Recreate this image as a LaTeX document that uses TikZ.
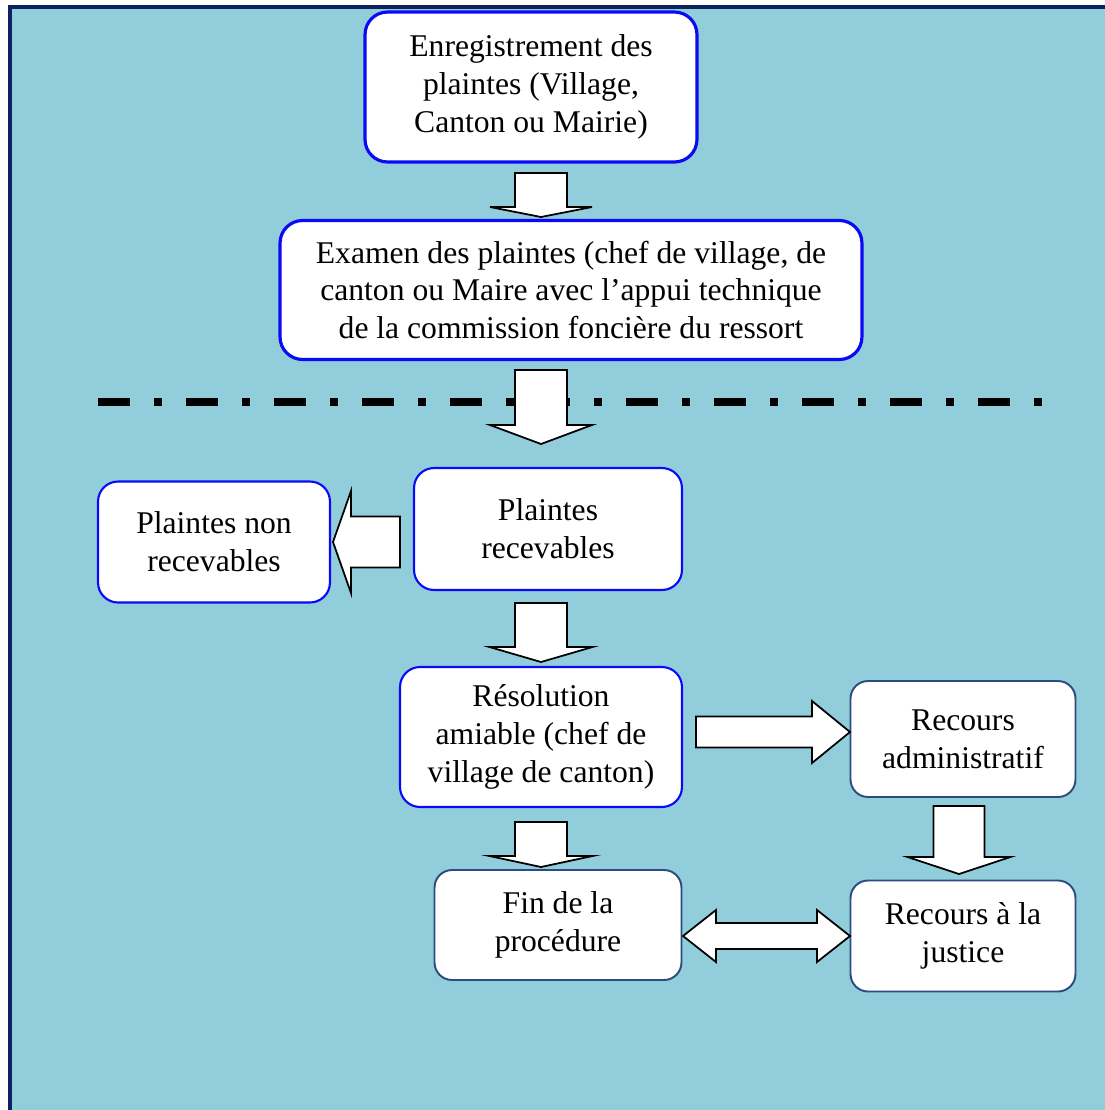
\documentclass[tikz,border=0pt]{standalone}
\usepackage{fontspec}
\setmainfont{Liberation Serif}
\usetikzlibrary{calc}
\definecolor{fond}{HTML}{92CDDC}
\definecolor{cadre}{HTML}{0C2160}
\definecolor{bleu}{HTML}{0A0AF5}
\definecolor{ardoise}{HTML}{2B4C7E}

% fleche pleine : queue, pointe, demi-largeur du corps, demi-largeur de la tete, longueur de la tete
\newcommand{\fleche}[5]{%
  \path ($(#2)!#5!(#1)$) coordinate (hb);
  \draw[bloc] ($(#1)!#3!90:(#2)$) -- ($(hb)!#3!90:(#2)$) -- ($(hb)!#4!90:(#2)$) -- (#2)
    -- ($(hb)!#4!-90:(#2)$) -- ($(hb)!#3!-90:(#2)$) -- ($(#1)!#3!-90:(#2)$) -- cycle;}
\newcommand{\doublefleche}[5]{%
  \path ($(#1)!#5!(#2)$) coordinate (hb1) ($(#2)!#5!(#1)$) coordinate (hb2);
  \draw[bloc] (#1) -- ($(hb1)!#4!90:(#2)$) -- ($(hb1)!#3!90:(#2)$) -- ($(hb2)!#3!90:(#2)$)
    -- ($(hb2)!#4!90:(#2)$) -- (#2) -- ($(hb2)!#4!-90:(#2)$) -- ($(hb2)!#3!-90:(#2)$)
    -- ($(hb1)!#3!-90:(#2)$) -- ($(hb1)!#4!-90:(#2)$) -- cycle;}

\begin{document}
\begin{tikzpicture}[x=0.02cm, y=-0.02cm, font=\fontsize{18}{21.5}\selectfont,
    boite/.style={draw, fill=white, align=center, inner sep=0pt, rounded corners=0.4cm},
    bleue/.style={boite, draw=bleu, line width=1.2pt},
    epaisse/.style={bleue, line width=1.8pt, rounded corners=0.45cm},
    sombre/.style={boite, draw=ardoise, line width=1.1pt, rounded corners=0.35cm},
    bloc/.style={draw=black, fill=white, line width=1pt, line join=miter}]

    \useasboundingbox (0,0) rectangle (1105,1110);
    \fill[fond] (10,7) rectangle (1105,1110);
    \draw[cadre, line width=0.08cm] (10,1110) -- (10,7) -- (1105,7);

    \node[epaisse, minimum width=6.64cm, minimum height=3cm] (enreg) at (531,87)
        {Enregistrement des\\plaintes (Village,\\Canton ou Mairie)};
    \node[epaisse, minimum width=11.64cm, minimum height=2.78cm] (examen) at (571,290)
        {Examen des plaintes (chef de village, de\\canton ou Maire avec l’appui technique\\de la commission foncière du ressort};
    \node[bleue, minimum width=5.36cm, minimum height=2.44cm] (recev) at (548,529) {Plaintes\\recevables};
    \node[bleue, minimum width=4.64cm, minimum height=2.42cm] (nonrecev) at (214,542) {Plaintes non\\recevables};
    \node[bleue, minimum width=5.64cm, minimum height=2.8cm] (resol) at (541,737)
        {Résolution\\amiable (chef de\\village de canton)};
    \node[sombre, minimum width=4.5cm, minimum height=2.32cm] (recadm) at (963,739) {Recours\\administratif};
    \node[sombre, minimum width=4.94cm, minimum height=2.2cm] (fin) at (558,925) {Fin de la\\procédure};
    \node[sombre, minimum width=4.5cm, minimum height=2.22cm] (justice) at (963,936) {Recours à la\\justice};

    \draw[line width=0.16cm, dash pattern=on 0.64cm off 0.48cm on 0.16cm off 0.48cm] (98,402) -- (1045,402);

    \coordinate (f1a) at (541,173); \coordinate (f1b) at (541,217);
    \coordinate (f2a) at (541,370); \coordinate (f2b) at (541,444);
    \coordinate (f3a) at (541,603); \coordinate (f3b) at (541,662);
    \coordinate (f4a) at (400,542); \coordinate (f4b) at (333,542);
    \coordinate (f5a) at (696,732); \coordinate (f5b) at (850,732);
    \coordinate (f6a) at (541,822); \coordinate (f6b) at (541,867);
    \coordinate (f7a) at (959,806); \coordinate (f7b) at (959,874);
    \coordinate (f8a) at (683,936); \coordinate (f8b) at (850,936);

    \fleche{f1a}{f1b}{0.52cm}{1.02cm}{0.2cm}
    \fleche{f2a}{f2b}{0.52cm}{1.02cm}{0.38cm}
    \fleche{f3a}{f3b}{0.52cm}{1.03cm}{0.3cm}
    \fleche{f4a}{f4b}{0.51cm}{1.02cm}{0.36cm}
    \fleche{f5a}{f5b}{0.31cm}{0.62cm}{0.76cm}
    \fleche{f6a}{f6b}{0.52cm}{1.03cm}{0.22cm}
    \fleche{f7a}{f7b}{0.51cm}{1.03cm}{0.34cm}
    \doublefleche{f8a}{f8b}{0.26cm}{0.52cm}{0.66cm}
\end{tikzpicture}
\end{document}
